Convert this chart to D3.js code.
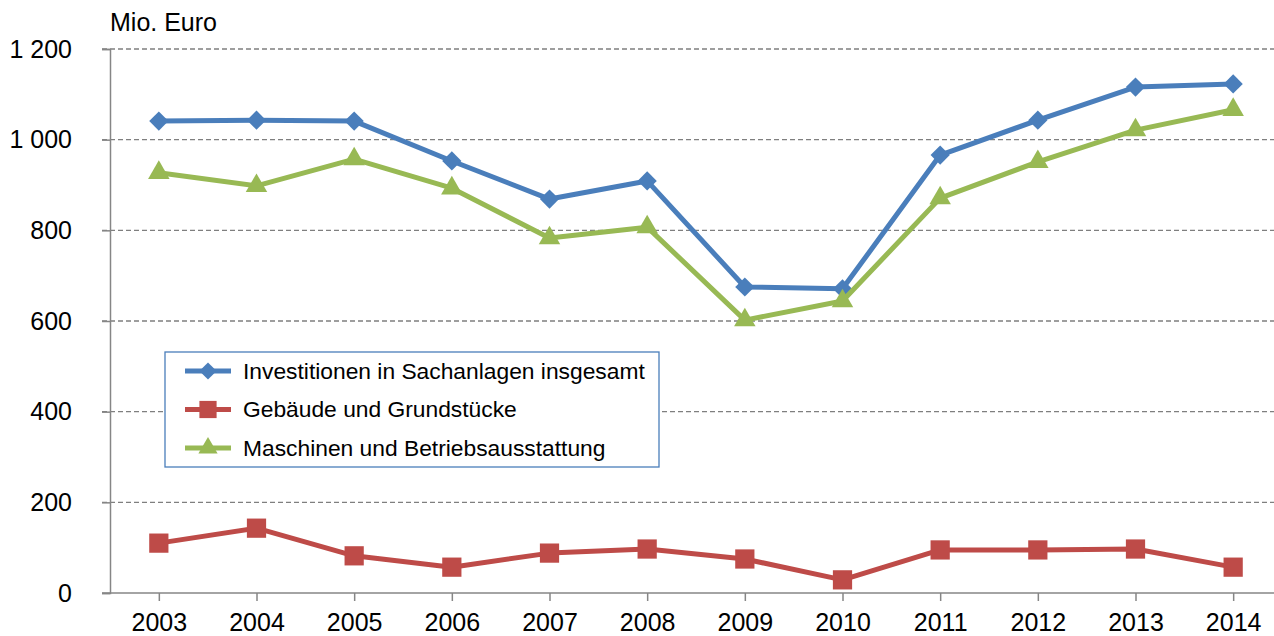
<!DOCTYPE html>
<html>
<head>
<meta charset="utf-8">
<script src="https://cdn.jsdelivr.net/npm/d3@7"></script>
<style>
  body { margin: 0; background: #fff; }
  text { font-family: "Liberation Sans", Arial, sans-serif; fill: #000; }
</style>
</head>
<body>
<script>
// data
var years = ["2003","2004","2005","2006","2007","2008","2009","2010","2011","2012","2013","2014"];
var gesamt = [1041, 1043, 1041, 953, 869, 909, 675, 671, 966, 1043, 1116, 1123];
var gebaeude = [110, 143, 82, 57, 88, 97, 75, 29, 95, 95, 97, 57];
var maschinen = [927, 898, 957, 893, 783, 807, 602, 644, 871, 951, 1021, 1066];
var yTicks = [0, 200, 400, 600, 800, 1000, 1200];
var seriesNames = ["Investitionen in Sachanlagen insgesamt", "Gebäude und Grundstücke", "Maschinen und Betriebsausstattung"];

var width = 1274, height = 636;
var plotLeft = 110, plotTop = 49, plotBottom = 593, plotRight = 1282;

var svg = d3.select("body").append("svg")
    .attr("width", width)
    .attr("height", height);

var x = d3.scalePoint().domain(years).range([plotLeft, plotRight]).padding(0.5);
var y = d3.scaleLinear().domain([0, 1200]).range([plotBottom, plotTop]);

//grid lines
svg.selectAll(".grid")
    .data(yTicks.filter(function(d) { return d > 0; }))
    .enter().append("line")
    .attr("x1", plotLeft - 8)
    .attr("x2", width)
    .attr("y1", function(d) { return y(d); })
    .attr("y2", function(d) { return y(d); })
    .attr("stroke", "#7f7f7f")
    .attr("stroke-width", 1.3)
    .attr("stroke-dasharray", "5,3");

//y axis
var yAxis = svg.append("g")
    .attr("transform", "translate(" + plotLeft + ",0)")
    .call(d3.axisLeft(y).tickValues(yTicks).tickSize(8).tickPadding(30)
        .tickFormat(function(d) { return d3.format(",")(d).replace(",", " "); }));
yAxis.selectAll("path, line").attr("stroke", "#868686").attr("stroke-width", 1.5);
yAxis.selectAll("text").style("font-size", "25px").attr("fill", "#000");

//x axis
var xAxis = svg.append("g")
    .attr("transform", "translate(0," + plotBottom + ")")
    .call(d3.axisBottom(x).tickSize(8).tickSizeOuter(0).tickPadding(12));
xAxis.select(".domain").attr("d", "M" + (plotLeft - 8) + ",0H" + plotRight);
xAxis.selectAll("path, line").attr("stroke", "#868686").attr("stroke-width", 1.5);
xAxis.selectAll("text").style("font-size", "25px").attr("fill", "#000");

svg.append("text")
    .attr("x", plotLeft)
    .attr("y", 31)
    .style("font-size", "25px")
    .text("Mio. Euro");

// marker shapes: diamond is a square turned by 45 degrees
var series = [
    {name: seriesNames[0], values: gesamt, color: "#4A7EBB", shape: d3.symbolSquare, size: 185, rot: 45},
    {name: seriesNames[1], values: gebaeude, color: "#BE4B48", shape: d3.symbolSquare, size: 370, rot: 0},
    {name: seriesNames[2], values: maschinen, color: "#98B954", shape: d3.symbolTriangle, size: 200, rot: 0}
];

var line = d3.line()
    .x(function(d, i) { return x(years[i]); })
    .y(function(d) { return y(d); });

series.forEach(function(s) {
    svg.append("path")
        .attr("d", line(s.values))
        .attr("fill", "none")
        .attr("stroke", s.color)
        .attr("stroke-width", 5)
        .attr("stroke-linejoin", "round");
    svg.selectAll(null)
        .data(s.values)
        .enter().append("path")
        .attr("d", d3.symbol().type(s.shape).size(s.size))
        .attr("transform", function(d, i) {
            return "translate(" + x(years[i]) + "," + y(d) + ") rotate(" + s.rot + ")";
        })
        .attr("fill", s.color);
});

//legend
var legend = svg.append("g").attr("transform", "translate(165,352)");
legend.append("rect")
    .attr("width", 494)
    .attr("height", 115)
    .attr("fill", "#fff")
    .attr("stroke", "#4A7EBB")
    .attr("stroke-width", 1.3);

var rows = legend.selectAll(".row")
    .data(series)
    .enter().append("g")
    .attr("transform", function(d, i) { return "translate(0," + (19 + i * 38.5) + ")"; });
rows.append("line")
    .attr("x1", 20).attr("x2", 66)
    .attr("stroke", function(d) { return d.color; })
    .attr("stroke-width", 5);
rows.append("path")
    .attr("d", function(d) { return d3.symbol().type(d.shape).size(d.size * 0.8)(); })
    .attr("transform", function(d) { return "translate(43,0) rotate(" + d.rot + ")"; })
    .attr("fill", function(d) { return d.color; });
rows.append("text")
    .attr("x", 78)
    .attr("dy", "0.35em")
    .style("font-size", "22.8px")
    .text(function(d) { return d.name; });
</script>
</body>
</html>
